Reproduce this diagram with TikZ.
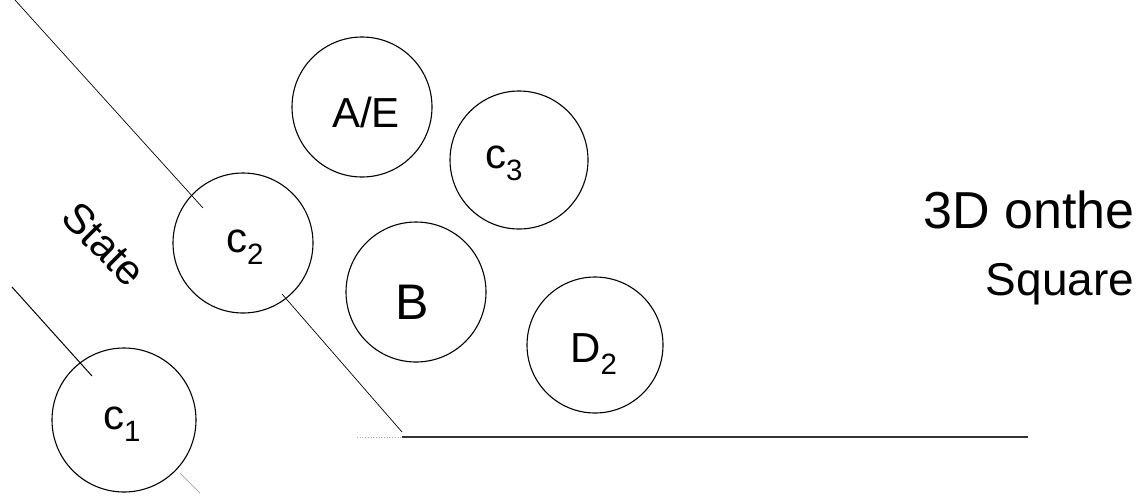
\documentclass[tikz,border=0pt]{standalone}
\usepackage{fontspec}
\setmainfont{Liberation Sans}
\begin{document}
\begin{tikzpicture}[x=1pt,y=-1pt,
  bubble/.style={circle,draw=black,line width=1.1pt,inner sep=0pt,minimum size=140pt},
  lbl/.style={font=\fontsize{42}{46}\selectfont,inner sep=0pt},
  thinline/.style={draw=black,line width=0.7pt},
  faint/.style={draw=black!35,line width=0.7pt},
  baseline/.style={draw=black!80,line width=1.3pt}]
\useasboundingbox (0,0) rectangle (1147,496);
% circles
\node[bubble] (ae) at (362,107) {};
\node[bubble,minimum size=138pt] (c3) at (519,160) {};
\node[bubble] (c2) at (243,243) {};
\node[bubble] (b) at (416,292) {};
\node[bubble,minimum size=136pt] (d2) at (595,345) {};
\node[bubble,minimum size=144pt] (c1) at (124,420) {};
% labels
\node[lbl] (aeT) at (366,112) {A/E};
\node[lbl] (c3T) at (504,163) {c\textsubscript{3}};
\node[lbl] (c2T) at (245,247) {c\textsubscript{2}};
\node[lbl,font=\fontsize{50}{54}\selectfont] (bT) at (412,302) {B};
\node[lbl] (d2T) at (594,354) {D\textsubscript{2}};
\node[lbl] (c1T) at (122,424) {c\textsubscript{1}};
% lines
\coordinate (l1a) at (15,0);
\coordinate (l1b) at (203,208);
\coordinate (l2a) at (282,294);
\coordinate (l2b) at (402,432);
\coordinate (h1) at (402,437);
\coordinate (h2) at (1028,437);
\coordinate (h0) at (357,437);
\coordinate (s1) at (12,287);
\coordinate (s2) at (92,376);
\coordinate (s3) at (180,473);
\coordinate (s4) at (200,493);
\draw[thinline] (l1a) -- (l1b);
\draw[thinline] (l2a) -- (l2b);
\draw[baseline] (h1) -- (h2);
\draw[faint,dotted] (h0) -- (h1);
\draw[thinline,line width=1pt] (s1) -- (s2);
\draw[faint] (s3) -- (s4);
% text
\node[rotate=-45,font=\fontsize{42}{46}\selectfont,inner sep=0pt] (state) at (104,244) {State};
\node[font=\fontsize{52}{56}\selectfont,inner sep=0pt] (t1) at (1029,210) {3D onthe};
\node[font=\fontsize{46}{50}\selectfont,inner sep=0pt] (t2) at (1060,284) {Square};
\end{tikzpicture}
\end{document}
